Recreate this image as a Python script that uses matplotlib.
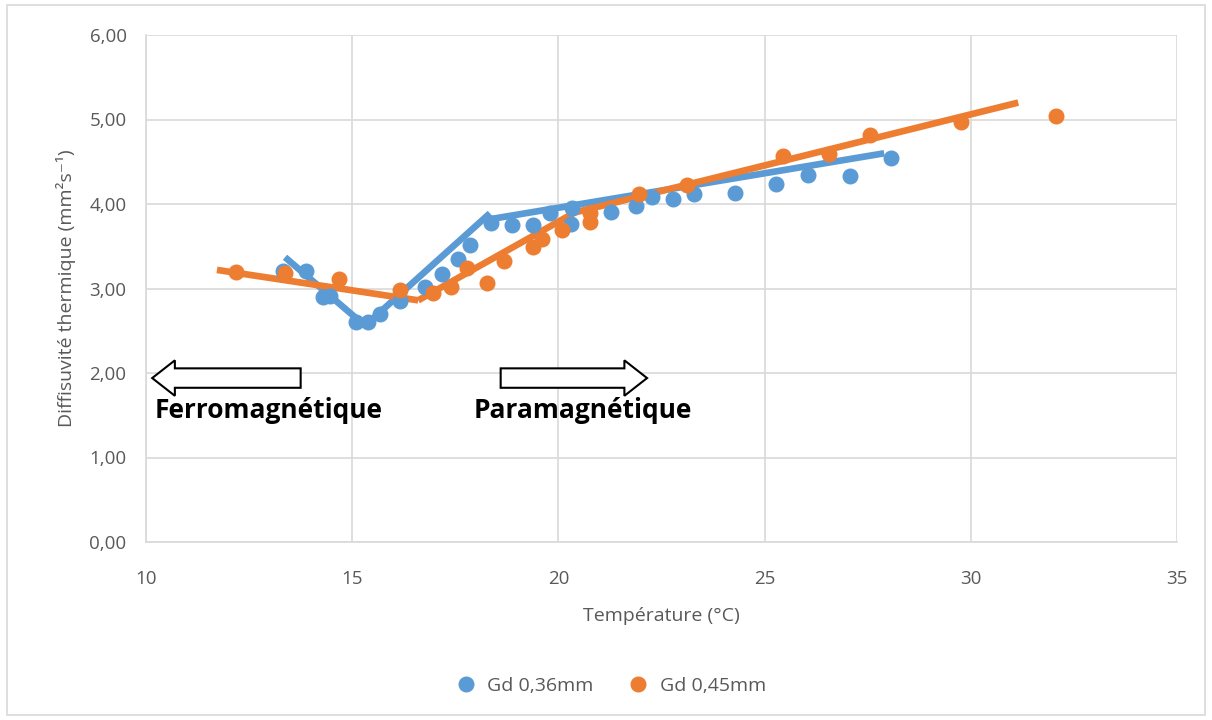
import matplotlib.pyplot as plt
from matplotlib.patches import FancyArrow, Rectangle
from matplotlib.ticker import FuncFormatter

# data
gd36_x = [13.32, 13.87, 14.29, 14.46, 15.09, 15.38, 15.67, 16.16, 16.76, 17.18, 17.56, 17.86,
          18.37, 18.87, 19.38, 19.80, 20.30, 20.33, 21.28, 21.88, 22.27, 22.78, 23.29, 24.28,
          25.28, 26.05, 27.07, 28.07]
gd36_y = [3.21, 3.21, 2.90, 2.91, 2.60, 2.60, 2.70, 2.85, 3.02, 3.17, 3.35, 3.51,
          3.78, 3.75, 3.75, 3.89, 3.76, 3.95, 3.91, 3.98, 4.08, 4.06, 4.12, 4.13,
          4.24, 4.34, 4.33, 4.54]
gd45_x = [12.18, 13.37, 14.68, 16.16, 16.96, 17.40, 17.78, 18.27, 18.68, 19.38, 19.60, 20.09,
          20.77, 20.77, 21.95, 23.12, 25.45, 26.56, 27.55, 29.76, 32.07]
gd45_y = [3.20, 3.18, 3.11, 2.98, 2.95, 3.02, 3.24, 3.07, 3.33, 3.49, 3.59, 3.69,
          3.79, 3.89, 4.12, 4.22, 4.57, 4.59, 4.82, 4.97, 5.04]

# piecewise linear fits (segments)
fit36 = [([13.37, 15.31], [3.37, 2.56]),
         ([15.31, 18.34], [2.56, 3.89]),
         ([18.34, 27.90], [3.82, 4.60])]
fit45 = [([11.72, 16.60], [3.22, 2.86]),
         ([16.60, 20.40], [2.86, 3.90]),
         ([20.40, 31.15], [3.90, 5.20])]

blue = '#5B9BD5'
orange = '#ED7D31'
grey = '#595959'

plt.rcParams['font.family'] = ['Open Sans', 'DejaVu Sans']

fig = plt.figure(figsize=(12.12, 7.2), dpi=100)
ax = fig.add_axes([146/1212, 1-542/720, (1177-146)/1212, (542-35)/720])

for xs, ys in fit36:
    ax.plot(xs, ys, color=blue, lw=4.8, solid_capstyle='butt', zorder=3)
for xs, ys in fit45:
    ax.plot(xs, ys, color=orange, lw=4.8, solid_capstyle='butt', zorder=3)

ax.plot(gd36_x, gd36_y, 'o', color=blue, ms=10.5, label='Gd 0,36mm', zorder=4)
ax.plot(gd45_x, gd45_y, 'o', color=orange, ms=10.5, label='Gd 0,45mm', zorder=4)

ax.set_xlim(10, 35)
ax.set_ylim(0, 6)
ax.set_xticks(range(10, 36, 5))
ax.set_yticks([0, 1, 2, 3, 4, 5, 6])
ax.yaxis.set_major_formatter(FuncFormatter(lambda v, p: f"{v:.2f}".replace('.', ',')))
ax.grid(True, color='#d9d9d9', lw=1.2)
ax.set_axisbelow(True)
for s in ['top', 'right']:
    ax.spines[s].set_visible(False)
for s in ['left', 'bottom']:
    ax.spines[s].set_color('#d9d9d9')
    ax.spines[s].set_linewidth(1.2)
ax.tick_params(length=0, labelsize=13.5, colors=grey)
ax.tick_params(axis='y', pad=14)
ax.tick_params(axis='x', pad=20)

ax.set_xlabel('Température (°C)', fontsize=14, color=grey, labelpad=14)
ax.set_ylabel('Diffisuvité thermique (mm²s⁻¹)', fontsize=14, color=grey, labelpad=10)

# arrows
ax.add_patch(FancyArrow(13.75, 1.94, -3.6, 0, width=0.23, head_width=0.42, head_length=0.55,
                        length_includes_head=True, facecolor='white', edgecolor='black', lw=1.5, zorder=5))
ax.add_patch(FancyArrow(18.6, 1.94, 3.55, 0, width=0.23, head_width=0.42, head_length=0.55,
                        length_includes_head=True, facecolor='white', edgecolor='black', lw=1.5, zorder=5))
ax.text(10.2, 1.56, 'Ferromagnétique', fontsize=19, fontweight='bold', va='center', ha='left', zorder=6)
ax.text(17.95, 1.56, 'Paramagnétique', fontsize=19, fontweight='bold', va='center', ha='left', zorder=6)

leg = fig.legend(loc='center', bbox_to_anchor=(0.5, 1-686/720), ncol=2, frameon=False,
                 fontsize=14, handletextpad=0.1, columnspacing=1.3, markerscale=1.0)
for t in leg.get_texts():
    t.set_color(grey)

fig.patches.append(Rectangle((7/1212, 5/720), 1198/1212, 710/720, transform=fig.transFigure,
                             fill=False, edgecolor='#d9d9d9', lw=1.2))

fig.savefig('out.png', dpi=100, facecolor='white')
